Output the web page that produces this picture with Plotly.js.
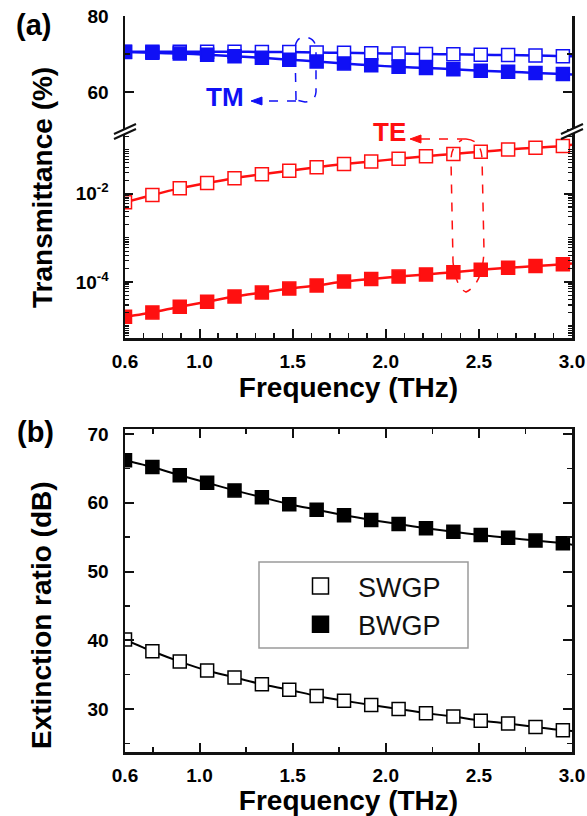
<!DOCTYPE html>
<html><head><meta charset="utf-8">
<script src="https://cdn.plot.ly/plotly-3.0.1.min.js"></script>
<style>html,body{margin:0;padding:0;background:#fff;} #chart{width:587px;height:816px;}</style>
</head><body><div id="chart"></div>
<script>
// ---- data ----
const freq = [0.6, 0.747, 0.894, 1.041, 1.188, 1.335, 1.482, 1.629, 1.776, 1.922, 2.069, 2.216, 2.363, 2.510, 2.657, 2.804, 2.951, 3.0];
const tmSWGP = [70.6, 70.6, 70.6, 70.6, 70.6, 70.5, 70.5, 70.4, 70.3, 70.2, 70.1, 70.0, 69.9, 69.8, 69.7, 69.6, 69.4, 69.4];
const tmBWGP = [70.5, 70.3, 70.1, 69.8, 69.4, 69.0, 68.5, 68.0, 67.5, 67.0, 66.6, 66.3, 66.0, 65.6, 65.3, 65.0, 64.7, 64.6];
const teSWGP = [0.0064, 0.00933, 0.0132, 0.0174, 0.0224, 0.0275, 0.0331, 0.0398, 0.0468, 0.0537, 0.0617, 0.0708, 0.0794, 0.0891, 0.100, 0.110, 0.120, 0.129];
const teBWGP = [1.62e-5, 2.04e-5, 2.75e-5, 3.55e-5, 4.68e-5, 5.75e-5, 7.08e-5, 8.32e-5, 1.02e-4, 1.17e-4, 1.32e-4, 1.48e-4, 1.66e-4, 1.90e-4, 2.10e-4, 2.29e-4, 2.51e-4, 2.63e-4];
const erSWGP = [40.1, 38.4, 36.9, 35.6, 34.6, 33.6, 32.8, 31.9, 31.2, 30.6, 30.0, 29.4, 28.9, 28.3, 27.9, 27.4, 26.9, 26.8];
const erBWGP = [66.2, 65.2, 64.0, 62.9, 61.8, 60.8, 59.8, 59.0, 58.2, 57.5, 56.9, 56.3, 55.8, 55.3, 54.9, 54.5, 54.1, 53.9];
const nMarkers = 17;
const xTickVals = [0.6, 1.0, 1.5, 2.0, 2.5, 3.0];
const xTickText = ['0.6', '1.0', '1.5', '2.0', '2.5', '3.0'];
const tmTickVals = [60, 80];
const teLabelVals = [1e-4, 1e-2];
const teLabelText = ['10<sup>-4</sup>', '10<sup>-2</sup>'];
const teDecadeVals = [1e-5, 1e-3, 1e-1];
const erTickVals = [30, 40, 50, 60, 70];

// ---- styling ----
const FONT = 'Liberation Sans, Arial, Helvetica, sans-serif';
const BLUE = '#1010f5', RED = '#ff1010', BLACK = '#000000';
const L = 125, R = 572, T = 16, B = 752;
const PX = x => (x - L) / (R - L);
const PY = y => (B - y) / (B - T);
const p = (x, y) => PX(x).toFixed(4) + ',' + PY(y).toFixed(4);

function series(y, color, filled, xa, ya, name, lw) {
  return [
    {x: freq, y: y, mode: 'lines', xaxis: xa, yaxis: ya, showlegend: false, hoverinfo: 'skip',
     line: {color: color, width: lw, shape: 'spline', smoothing: 0.6}},
    {x: freq.slice(0, nMarkers), y: y.slice(0, nMarkers), mode: 'markers', xaxis: xa, yaxis: ya,
     name: name, showlegend: false,
     marker: {symbol: 'square', size: 13, color: filled ? color : '#ffffff', line: {color: color, width: 1.5}}}
  ];
}
function legendItem(name, filled) {
  return {x: [null], y: [null], mode: 'markers', xaxis: 'x2', yaxis: 'y3', name: name, showlegend: true,
    marker: {symbol: 'square', size: 22, color: filled ? '#000' : '#fff', line: {color: '#000', width: 1.5}}};
}

const data = [].concat(
  series(tmSWGP, BLUE, false, 'x', 'y', 'TM SWGP', 2.5),
  series(tmBWGP, BLUE, true, 'x', 'y', 'TM BWGP', 2.5),
  series(teSWGP, RED, false, 'x', 'y2', 'TE SWGP', 2.5),
  series(teBWGP, RED, true, 'x', 'y2', 'TE BWGP', 2.5),
  series(erSWGP, BLACK, false, 'x2', 'y3', 'SWGP', 2),
  series(erBWGP, BLACK, true, 'x2', 'y3', 'BWGP', 2),
  [legendItem('SWGP', false), legendItem('BWGP', true)]
);

const tickFont = {family: FONT, size: 19, weight: 'bold', color: '#000'};
const titleFont = {family: FONT, size: 28, weight: 'bold', color: '#000'};
const axBase = {showline: true, linecolor: '#111', linewidth: 2.5, ticks: 'inside', ticklen: 9, tickwidth: 2,
  tickcolor: '#111', showgrid: false, zeroline: false, tickfont: tickFont, ticklabelstandoff: 10};
const xMinorTop = {tickmode: 'linear', tick0: 0.6, dtick: 0.1, ticks: 'inside', ticklen: 5, tickwidth: 1.5, tickcolor: '#111'};
const yUp = PY(131), yLow = PY(338), yBot = PY(429);

const layout = {
  width: 587, height: 816,
  margin: {l: L, r: 587 - R, t: T, b: 816 - B},
  paper_bgcolor: '#fff', plot_bgcolor: '#fff',
  showlegend: true,
  legend: {x: PX(283), y: PY(562), xanchor: 'left', yanchor: 'top', bgcolor: 'rgba(0,0,0,0)', borderwidth: 0,
    font: {family: FONT, size: 27, color: '#111'}, itemwidth: 65, itemsizing: 'trace'},
  xaxis: Object.assign({}, axBase, {domain: [0, 1], anchor: 'y2', range: [0.6, 3.0], tickmode: 'array',
    tickvals: xTickVals, ticktext: xTickText, minor: xMinorTop, ticklabelstandoff: 5,
    title: {text: 'Frequency (THz)', font: titleFont, standoff: 3}}),
  xaxis3: Object.assign({}, axBase, {overlaying: 'x', anchor: 'y', side: 'top', range: [0.6, 3.0], tickmode: 'array',
    tickvals: xTickVals, showticklabels: false, minor: xMinorTop}),
  yaxis: Object.assign({}, axBase, {domain: [yUp, 1], anchor: 'x', range: [49.7, 80], tickmode: 'array',
    tickvals: tmTickVals, mirror: 'ticks',
    minor: {tickmode: 'linear', tick0: 0, dtick: 10, ticks: 'inside', ticklen: 5, tickwidth: 1.5, tickcolor: '#111'}}),
  yaxis2: Object.assign({}, axBase, {domain: [yLow, yUp], anchor: 'x', type: 'log', range: [-5.27, -0.58],
    tickmode: 'array', tickvals: teLabelVals, ticktext: teLabelText, mirror: 'ticks', ticklen: 8,
    minor: {dtick: 'D1', ticks: 'inside', ticklen: 4, tickwidth: 1.2, tickcolor: '#111'}}),
  yaxis4: Object.assign({}, axBase, {overlaying: 'y2', anchor: 'x', type: 'log', range: [-5.27, -0.58],
    tickmode: 'array', tickvals: teDecadeVals, showticklabels: false, mirror: 'ticks', ticklen: 8, showline: false}),
  xaxis2: Object.assign({}, axBase, {domain: [0, 1], anchor: 'y3', range: [0.6, 3.0], tickmode: 'array',
    tickvals: xTickVals, ticktext: xTickText, mirror: 'ticks', ticklabelstandoff: 5,
    minor: {tickmode: 'linear', tick0: 0.5, dtick: 0.25, ticks: 'inside', ticklen: 5, tickwidth: 1.5, tickcolor: '#111'},
    title: {text: 'Frequency (THz)', font: titleFont, standoff: 2}}),
  yaxis3: Object.assign({}, axBase, {domain: [0, yBot], anchor: 'x2', range: [23.75, 70.73], tickmode: 'array',
    tickvals: erTickVals, mirror: 'ticks',
    minor: {tickmode: 'linear', tick0: 0, dtick: 5, ticks: 'inside', ticklen: 5, tickwidth: 1.5, tickcolor: '#111'}}),
  shapes: [
    // legend frame
    {type: 'rect', xref: 'paper', yref: 'paper', x0: PX(259), x1: PX(468), y0: PY(648), y1: PY(562),
     line: {color: '#9a9a9a', width: 1.5}, fillcolor: '#fff', layer: 'below'},
    // axis break marks
    {type: 'path', xref: 'paper', yref: 'paper', path: `M${p(114,134)} L${p(136,124)} L${p(136,129)} L${p(114,139)} Z`, fillcolor: '#fff', line: {width: 0}},
    {type: 'line', xref: 'paper', yref: 'paper', x0: PX(114), y0: PY(134), x1: PX(136), y1: PY(124), line: {color: '#111', width: 2}},
    {type: 'line', xref: 'paper', yref: 'paper', x0: PX(114), y0: PY(139), x1: PX(136), y1: PY(129), line: {color: '#111', width: 2}},
    {type: 'path', xref: 'paper', yref: 'paper', path: `M${p(561,134)} L${p(583,124)} L${p(583,129)} L${p(561,139)} Z`, fillcolor: '#fff', line: {width: 0}},
    {type: 'line', xref: 'paper', yref: 'paper', x0: PX(561), y0: PY(134), x1: PX(583), y1: PY(124), line: {color: '#111', width: 2}},
    {type: 'line', xref: 'paper', yref: 'paper', x0: PX(561), y0: PY(139), x1: PX(583), y1: PY(129), line: {color: '#111', width: 2}},
    // TM dashed loop, arrow line and head
    {type: 'path', xref: 'paper', yref: 'paper', line: {color: BLUE, width: 1.5, dash: 'dash'},
     path: `M${p(296,100)} L${p(295,48)} Q${p(296,37)} ${p(305,37)} Q${p(315,38)} ${p(316,48)} L${p(316,92)} Q${p(315,102)} ${p(305,102)} Z`},
    {type: 'path', xref: 'paper', yref: 'paper', line: {color: BLUE, width: 1.5, dash: 'dash'},
     path: `M${p(296,101)} L${p(262,101)}`},
    {type: 'path', xref: 'paper', yref: 'paper', fillcolor: BLUE, line: {color: BLUE, width: 1},
     path: `M${p(251,101)} L${p(262,97)} L${p(262,105)} Z`},
    // TE dashed loop, arrow line and head
    {type: 'path', xref: 'paper', yref: 'paper', line: {color: RED, width: 1.5, dash: 'dash'},
     path: `M${p(466,139)} Q${p(481,140)} ${p(482,158)} L${p(484,250)} Q${p(483,284)} ${p(466,292)} Q${p(456,288)} ${p(453,262)} L${p(451,160)} Q${p(451,146)} ${p(462,140)}`},
    {type: 'path', xref: 'paper', yref: 'paper', line: {color: RED, width: 1.5, dash: 'dash'},
     path: `M${p(466,139)} L${p(421,139)}`},
    {type: 'path', xref: 'paper', yref: 'paper', fillcolor: RED, line: {color: RED, width: 1},
     path: `M${p(410,139)} L${p(421,135)} L${p(421,143)} Z`}
  ],
  annotations: [
    {text: '(a)', xref: 'paper', yref: 'paper', x: PX(33), y: PY(25), showarrow: false, xanchor: 'center', yanchor: 'middle',
     font: {family: FONT, size: 29, weight: 'bold', color: '#000'}},
    {text: '(b)', xref: 'paper', yref: 'paper', x: PX(35), y: PY(432), showarrow: false, xanchor: 'center', yanchor: 'middle',
     font: {family: FONT, size: 29, weight: 'bold', color: '#000'}},
    {text: 'Transmittance (%)', xref: 'paper', yref: 'paper', x: PX(42), y: PY(188), textangle: -90, showarrow: false,
     xanchor: 'center', yanchor: 'middle', font: titleFont},
    {text: 'Extinction ratio (dB)', xref: 'paper', yref: 'paper', x: PX(41), y: PY(615), textangle: -90, showarrow: false,
     xanchor: 'center', yanchor: 'middle', font: titleFont},
    {text: 'TM', xref: 'paper', yref: 'paper', x: PX(225), y: PY(97), showarrow: false, xanchor: 'center', yanchor: 'middle',
     font: {family: FONT, size: 26, weight: 'bold', color: BLUE}},
    {text: 'TE', xref: 'paper', yref: 'paper', x: PX(389), y: PY(132), showarrow: false, xanchor: 'center', yanchor: 'middle',
     font: {family: FONT, size: 26, weight: 'bold', color: RED}}
  ]
};

Plotly.newPlot('chart', data, layout, {displayModeBar: false, staticPlot: true});
</script>
</body></html>
